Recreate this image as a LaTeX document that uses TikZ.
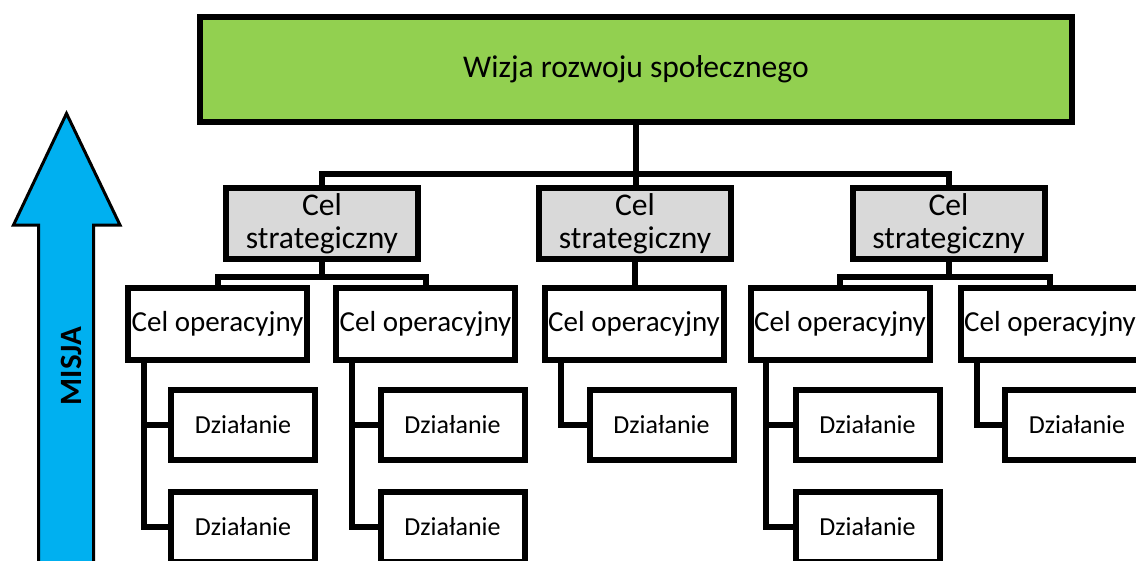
\documentclass[tikz,border=0pt]{standalone}
\usepackage{fontspec}
\setmainfont{Carlito}
\definecolor{visgreen}{HTML}{92D050}
\definecolor{stratgray}{HTML}{D9D9D9}
\definecolor{misjablue}{HTML}{00B0F0}
\begin{document}
\begin{tikzpicture}[x=1pt,y=-1pt,line join=miter,
  box/.style={draw=black,line width=6pt,inner sep=0pt,align=center,text=black},
  visbox/.style={box,fill=visgreen,minimum width=872pt,minimum height=105pt,font=\fontsize{31.6}{33}\selectfont},
  stratbox/.style={box,fill=stratgray,minimum width=192pt,minimum height=71pt,font=\fontsize{31.6}{33}\selectfont},
  opbox/.style={box,fill=white,minimum width=179pt,minimum height=72pt,font=\fontsize{29}{30}\selectfont},
  actbox/.style={box,fill=white,minimum width=144pt,minimum height=70pt,font=\fontsize{26}{27}\selectfont},
  wire/.style={draw=black,line width=6pt}]
\useasboundingbox (0,0) rectangle (1136,560);
\clip (0,0) rectangle (1136,560);

% mission arrow
\draw[fill=misjablue,line width=3pt,miter limit=10]
  (38.5,575) -- (38.5,225) -- (13.5,225) -- (66.5,113.5) -- (120,225) -- (93.5,225) -- (93.5,575) -- cycle;
\node[rotate=90,inner sep=0pt,font=\bfseries\fontsize{31}{33}\selectfont] (misja) at (71,366) {MISJA};

% vision
\node[visbox] (vis) at (636,69.5) {Wizja rozwoju społecznego};

% strategic goals
\node[stratbox] (s1) at (322,223.5) {Cel\\strategiczny};
\node[stratbox] (s2) at (635,223.5) {Cel\\strategiczny};
\node[stratbox] (s3) at (948.5,223.5) {Cel\\strategiczny};

% operational goals
\node[opbox] (o1) at (217.5,324) {Cel operacyjny};
\node[opbox] (o2) at (425.5,324) {Cel operacyjny};
\node[opbox] (o3) at (634,324) {Cel operacyjny};
\node[opbox] (o4) at (840,324) {Cel operacyjny};
\node[opbox] (o5) at (1050,324) {Cel operacyjny};

% actions
\node[actbox] (d11) at (243,425) {Działanie};
\node[actbox] (d12) at (243,527) {Działanie};
\node[actbox] (d21) at (452.5,425) {Działanie};
\node[actbox] (d22) at (452.5,527) {Działanie};
\node[actbox] (d31) at (661.5,425) {Działanie};
\node[actbox] (d41) at (867.5,425) {Działanie};
\node[actbox] (d42) at (867.5,527) {Działanie};
\node[actbox] (d51) at (1077,425) {Działanie};

% connectors: vision -> strategic
\coordinate (bus) at (636,174);
\draw[wire] (vis.south) -- (vis.south |- s2.north);
\draw[wire] (s1.north) |- (bus) -| (s3.north);

% strategic -> operational
\draw[wire] (s1.south) -- ++(0,15) coordinate (b1);
\draw[wire] (o1.north) |- (b1) -| (o2.north);
\draw[wire] (s2.south) -- (s2.south |- o3.north);
\draw[wire] (s3.south) -- ++(0,15) coordinate (b3);
\draw[wire] (o4.north) |- (b3) -| (o5.north);

% operational -> actions
\draw[wire] ([xshift=19pt]o1.south west) |- (d12.west);
\draw[wire] ([xshift=19pt]o1.south west |- d11.west) -- (d11.west);
\draw[wire] ([xshift=19pt]o2.south west) |- (d22.west);
\draw[wire] ([xshift=19pt]o2.south west |- d21.west) -- (d21.west);
\draw[wire] ([xshift=19pt]o3.south west) |- (d31.west);
\draw[wire] ([xshift=18pt]o4.south west) |- (d42.west);
\draw[wire] ([xshift=18pt]o4.south west |- d41.west) -- (d41.west);
\draw[wire] ([xshift=19pt]o5.south west) |- (d51.west);
\end{tikzpicture}
\end{document}
